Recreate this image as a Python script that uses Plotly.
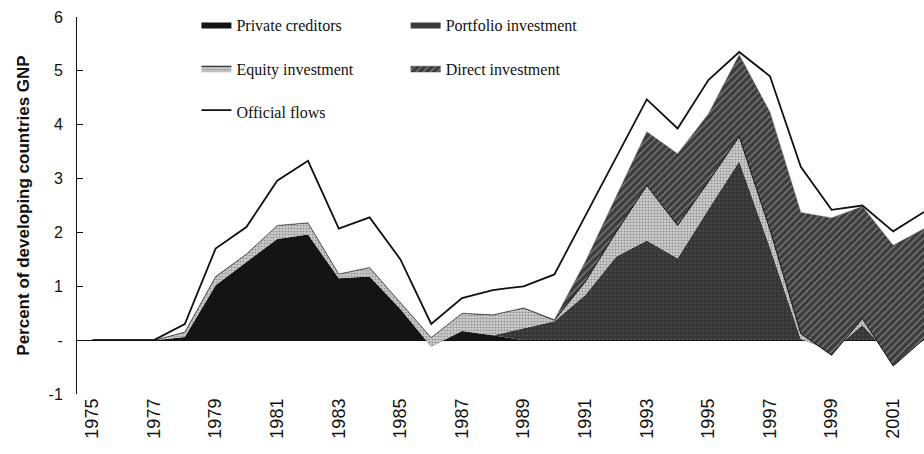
import plotly.graph_objects as go

years = list(range(1975, 2003))

private_creditors = [0, 0, 0, 0.06, 1.02, 1.45, 1.88, 1.96, 1.15, 1.18, 0.58, -0.12, 0.17, 0.09,
                     0, 0, 0, 0, 0, 0, 0, 0, 0, 0, 0, 0, 0, 0]
portfolio_investment = [0, 0, 0, 0, 0, 0, 0, 0, 0, 0, 0, 0, 0, 0,
                        0.22, 0.35, 0.84, 1.55, 1.85, 1.52, 2.43, 3.32, 1.72, 0.02, -0.2, 0.28, -0.35, 0.0]
equity_investment = [0, 0, 0, 0.09, 0.16, 0.15, 0.25, 0.22, 0.08, 0.17, 0.12, 0.17, 0.33, 0.38,
                     0.38, 0.02, 0.24, 0.45, 1.02, 0.61, 0.51, 0.46, 0.33, 0.10, -0.08, 0.12, -0.13, 0.02]
direct_investment = [0, 0, 0, 0, 0, 0, 0, 0, 0, 0, 0, 0, 0, 0,
                     0, 0.01, 0.37, 0.65, 1.0, 1.33, 1.26, 1.52, 2.18, 2.25, 2.55, 2.08, 2.24, 2.05]
official_flows = [0, 0, 0, 0.15, 0.52, 0.5, 0.83, 1.15, 0.84, 0.93, 0.8, 0.25, 0.28, 0.46,
                  0.4, 0.84, 0.85, 0.75, 0.6, 0.47, 0.63, 0.05, 0.67, 0.85, 0.15, 0.02, 0.26, 0.31]

y_ticks = [-1, 0, 1, 2, 3, 4, 5, 6]
y_tick_text = ["-1", "-", "1", "2", "3", "4", "5", "6"]
x_ticks = list(range(1975, 2002, 2))

SERIF = "Liberation Serif"
SANS = "Liberation Sans"

fig = go.Figure()

fig.add_trace(go.Scatter(
    x=years, y=private_creditors, name="Private creditors",
    stackgroup="one", mode="lines", line=dict(width=0, color="#141414"),
    fillcolor="#141414", legend="legend", legendgroup="a",
))
fig.add_trace(go.Scatter(
    x=years, y=portfolio_investment, name="Portfolio investment",
    stackgroup="one", mode="lines", line=dict(width=0, color="#383838"),
    fillcolor="#383838",
    fillpattern=dict(shape=".", bgcolor="#353535", fgcolor="#555555", size=4, solidity=0.3),
    legend="legend2", legendgroup="b",
))
fig.add_trace(go.Scatter(
    x=years, y=equity_investment, name="Equity investment",
    stackgroup="one", mode="lines", line=dict(width=1, color="#111111"),
    fillcolor="#b8b8b8",
    fillpattern=dict(shape=".", bgcolor="#cfcfcf", fgcolor="#555555", size=3, solidity=0.4),
    legend="legend", legendgroup="c",
))
fig.add_trace(go.Scatter(
    x=years, y=direct_investment, name="Direct investment",
    stackgroup="one", mode="lines", line=dict(width=0.5, color="#3a3a3a"),
    fillcolor="#3d3d3d",
    fillpattern=dict(shape="/", bgcolor="#3c3c3c", fgcolor="#c4c4c4", size=5, solidity=0.25),
    legend="legend2", legendgroup="d",
))
fig.add_trace(go.Scatter(
    x=years, y=official_flows, name="Official flows",
    stackgroup="one", mode="lines", line=dict(width=1.8, color="#111111"),
    fillcolor="#ffffff",
    legend="legend", legendgroup="e",
))

legend_style = dict(
    font=dict(family=SERIF, size=16, color="#111111"),
    bgcolor="rgba(0,0,0,0)",
    traceorder="grouped",
    tracegroupgap=20,
    itemwidth=30,
    yanchor="top",
    y=1.025,
)

fig.update_layout(
    width=924,
    height=454,
    margin=dict(l=77, r=0, t=17, b=60),
    plot_bgcolor="white",
    paper_bgcolor="white",
    showlegend=True,
    legend=dict(x=0.141, **legend_style),
    legend2=dict(x=0.388, **legend_style),
    xaxis=dict(
        range=[1974.5, 2002],
        tickmode="array",
        tickvals=x_ticks,
        ticktext=[str(v) for v in x_ticks],
        tickangle=-90,
        tickfont=dict(family=SANS, size=18, color="#111111"),
        showgrid=False,
        showline=False,
        zeroline=False,
        ticks="",
    ),
    yaxis=dict(
        range=[-1, 6],
        tickmode="array",
        tickvals=y_ticks,
        ticktext=y_tick_text,
        tickfont=dict(family=SANS, size=16, color="#111111"),
        ticks="inside",
        ticklen=6,
        tickcolor="#111111",
        ticklabelstandoff=10,
        showline=True,
        linecolor="#111111",
        linewidth=1,
        showgrid=False,
        zeroline=True,
        zerolinecolor="#111111",
        zerolinewidth=1,
        title=dict(
            text="<b>Percent of developing countries GNP</b>",
            font=dict(family=SANS, size=17, color="#111111"),
            standoff=14,
        ),
    ),
)

# drop the default page margin so the figure sits at the window's corner
fig.write_html(
    "out.html",
    config={"displayModeBar": False},
    post_script="document.body.style.margin='0';document.body.style.overflow='hidden';",
)
